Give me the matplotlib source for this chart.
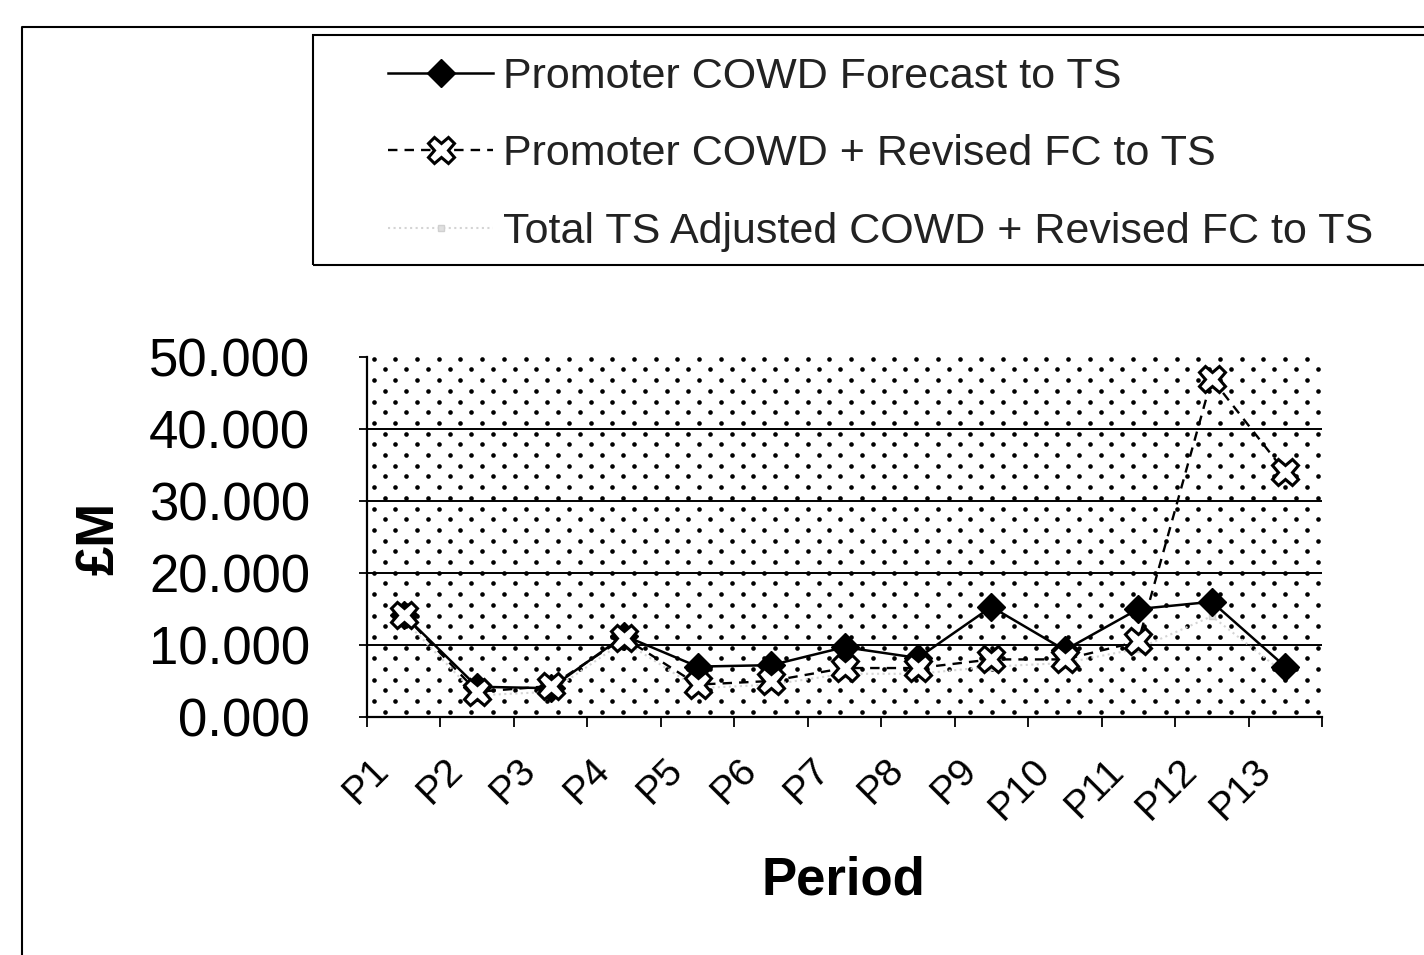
import matplotlib.pyplot as plt
import numpy as np
from matplotlib.lines import Line2D
from matplotlib.patches import Rectangle
from matplotlib.transforms import ScaledTranslation

plt.rcParams['font.family'] = ['Liberation Sans', 'DejaVu Sans']

# data (values in £M)
periods = ['P1', 'P2', 'P3', 'P4', 'P5', 'P6', 'P7', 'P8', 'P9', 'P10', 'P11', 'P12', 'P13']
promoter_cowd = [14.2, 4.2, 4.0, 11.3, 7.0, 7.2, 9.7, 8.2, 15.3, 9.3, 15.0, 16.0, 7.0]
promoter_revised = [14.2, 3.5, 4.3, 11.0, 4.5, 5.0, 6.8, 6.8, 8.0, 8.0, 10.5, 47.0, 34.0]
ts_adjusted = [13.5, 3.0, 3.5, 10.5, 4.0, 4.5, 6.0, 6.0, 7.0, 7.5, 9.5, 14.0, 6.0]
labels = ['Promoter COWD Forecast to TS',
          'Promoter COWD + Revised FC to TS',
          'Total TS Adjusted COWD + Revised FC to TS']

W, H = 1424, 955
fig = plt.figure(figsize=(W / 100, H / 100), dpi=100)

def fx(px):
    return px / W

def fy(py):
    return 1 - py / H

ax = fig.add_axes([fx(367), fy(717), fx(1322 - 367), (717 - 357) / H])

# dotted background (Excel 5% pattern)
dx = 21.7 / 955
dy = 10.7 / 360
px, py = [], []
for i, yy in enumerate(np.arange(0.995, 0.0, -dy)):
    xs = np.arange(0.007 + (dx / 2) * (i % 2), 1.0, dx)
    px.extend(xs)
    py.extend([yy] * len(xs))
ax.scatter(px, py, s=11, c='black', marker='o', linewidths=0,
           transform=ax.transAxes, zorder=0.5)

for g in [10, 20, 30, 40]:
    ax.axhline(g, color='black', lw=1.4, zorder=1)

x = np.arange(len(periods)) + 0.5

l3, = ax.plot(x, ts_adjusted, linestyle=':', color='#d4d4d4', lw=1.5,
              marker='s', ms=5, mfc='#e0e0e0', mec='#d0d0d0', zorder=2)
l1, = ax.plot(x, promoter_cowd, '-', color='black', lw=1.8,
              marker='D', ms=14, mfc='black', mec='black', zorder=3)
l2, = ax.plot(x, promoter_revised, linestyle=(0, (4, 3)), color='black', lw=1.7,
              marker='X', ms=19, mfc='white', mec='black', mew=2.2, zorder=4)

ax.set_xlim(0, 13)
ax.set_ylim(0, 50)
ax.set_yticks([0, 10, 20, 30, 40, 50])
ax.set_yticklabels(['%.3f' % v for v in [0, 10, 20, 30, 40, 50]])
ax.set_xticks(x)
ax.set_xticklabels(periods, rotation=45, ha='right', va='center',
                   rotation_mode='anchor')
ax.set_xticks(np.arange(0, 14), minor=True)
ax.tick_params(axis='y', length=6, width=1.3, labelsize=38, pad=35)
ax.tick_params(axis='x', which='major', length=0, labelsize=28, pad=30)
ax.tick_params(axis='x', which='minor', length=7, width=1.3, direction='out')
shift = ScaledTranslation(-0.2, -0.06, fig.dpi_scale_trans)
for lab in ax.get_xticklabels():
    lab.set_transform(lab.get_transform() + shift)

for side in ['top', 'right']:
    ax.spines[side].set_visible(False)
for side in ['left', 'bottom']:
    ax.spines[side].set_linewidth(1.6)

fig.text(fx(843), fy(880), 'Period', fontsize=38, fontweight='bold',
         ha='center', va='center')
fig.text(fx(100), fy(538), '£M', fontsize=38, fontweight='bold',
         rotation=90, ha='center', va='center')

# chart area frame (partly cut off at right and bottom)
fig.add_artist(Line2D([fx(22), fx(22), fx(1430)], [fy(960), fy(27), fy(27)],
                      color='black', lw=1.5))

# legend box
fig.add_artist(Rectangle((fx(313), fy(265)), fx(1430 - 313), (265 - 35) / H,
                         fill=False, edgecolor='black', lw=1.5))
leg = fig.legend([l1, l2, l3], labels, loc='upper left',
                 bbox_to_anchor=(fx(388), fy(57)), frameon=False,
                 fontsize=31, handlelength=2.45, handletextpad=0.22,
                 labelspacing=0.87, borderpad=0, borderaxespad=0)
for t in leg.get_texts():
    t.set_color('#222222')

fig.savefig('out.png', dpi=100)
